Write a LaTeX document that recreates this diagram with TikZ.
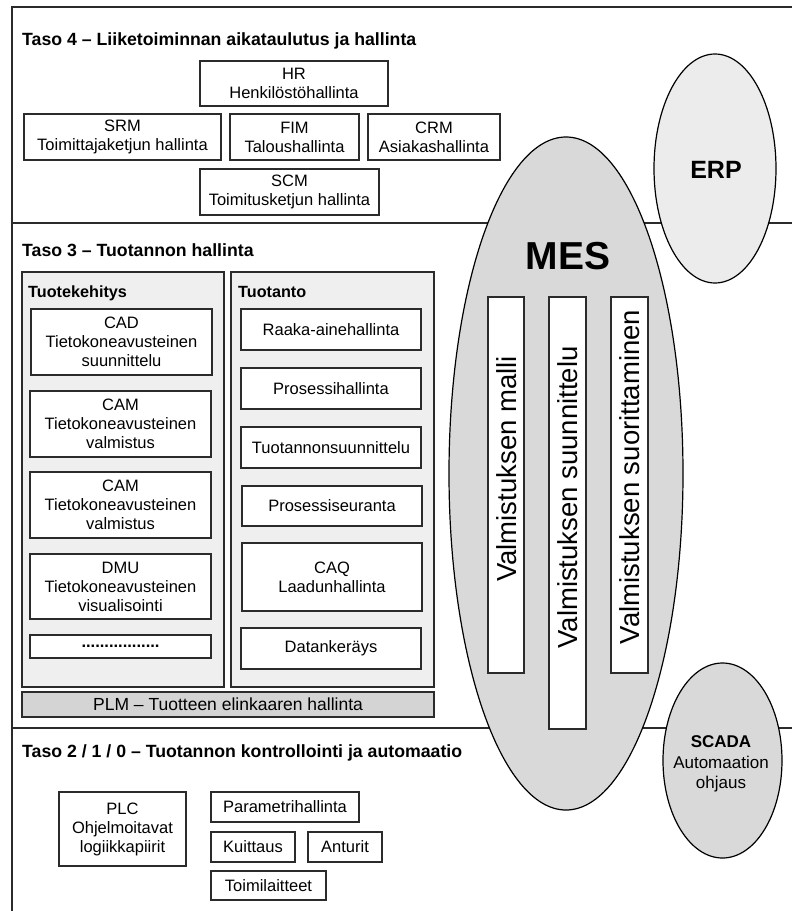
\documentclass[tikz,border=0pt]{standalone}
\usepackage{fontspec}
\setmainfont{Liberation Sans}
\usetikzlibrary{shapes.geometric}
\definecolor{edge}{HTML}{2B2B2B}
\definecolor{panelfill}{HTML}{EFEFEF}
\definecolor{mesfill}{HTML}{D9D9D9}
\definecolor{erpfill}{HTML}{ECECEC}
\definecolor{plmfill}{HTML}{D4D4D4}
\begin{document}
\begin{tikzpicture}[x=1pt,y=-1pt,
  frameline/.style={draw=edge, line width=1.3pt},
  box/.style={draw=edge, line width=1.2pt, fill=white, rectangle, inner sep=0pt,
    align=center, font=\fontsize{16.5}{19}\selectfont},
  panel/.style={draw=edge, line width=1.2pt, fill=panelfill, rectangle, inner sep=0pt},
  oval/.style={draw=black, line width=1.2pt, ellipse, inner sep=0pt},
  leveltitle/.style={anchor=base west, inner sep=0pt, font=\fontsize{17.7}{20}\selectfont\bfseries},
  paneltitle/.style={anchor=base west, inner sep=0pt, font=\fontsize{16.2}{19}\selectfont\bfseries},
  bar/.style={draw=edge, line width=1.2pt, fill=white, rectangle, inner sep=0pt},
  bartext/.style={rotate=90, inner sep=0pt, font=\fontsize{27.5}{30}\selectfont}
]
\useasboundingbox (0,0) rectangle (792,911);
\fill[white] (0,0) rectangle (792,911);

% outer frame and level separators
\coordinate (fbl) at (12,911);
\coordinate (ftl) at (12,7);
\coordinate (ftr) at (792,7);
\coordinate (s1l) at (12,223);
\coordinate (s1r) at (792,223);
\coordinate (s2l) at (12,728);
\coordinate (s2r) at (792,728);
\draw[frameline] (fbl) -- (ftl) -- (ftr);
\draw[frameline] (s1l) -- (s1r);
\draw[frameline] (s2l) -- (s2r);

% ---- Level 4 ----
\node[leveltitle] (t4) at (22,45) {Taso 4 – Liiketoiminnan aikataulutus ja hallinta};
\node[box, minimum width=188, minimum height=45] (hr)  at (294,83.5) {HR\\Henkilöstöhallinta};
\node[box, minimum width=197, minimum height=46] (srm) at (122.5,137) {SRM\\Toimittajaketjun hallinta};
\node[box, minimum width=129, minimum height=46] (fim) at (294.5,137) {FIM\\Taloushallinta};
\node[box, minimum width=132, minimum height=46] (crm) at (434,137) {CRM\\Asiakashallinta};
\node[box, minimum width=179, minimum height=46] (scm) at (289.5,192) {SCM\\Toimitusketjun hallinta};

% ---- Level 3 ----
\node[leveltitle] (t3) at (22,256) {Taso 3 – Tuotannon hallinta};
\node[panel, minimum width=202, minimum height=415] (pdev) at (123,479.5) {};
\node[panel, minimum width=203, minimum height=415] (pprod) at (332.5,479.5) {};
\node[paneltitle] (ldev) at (28,297) {Tuotekehitys};
\node[paneltitle] (lprod) at (238,297) {Tuotanto};

\node[box, minimum width=181, minimum height=66] (cad)  at (121.5,342) {CAD\\Tietokoneavusteinen\\suunnittelu};
\node[box, minimum width=181, minimum height=66] (cam1) at (120.5,424) {CAM\\Tietokoneavusteinen\\valmistus};
\node[box, minimum width=181, minimum height=66] (cam2) at (120.5,505) {CAM\\Tietokoneavusteinen\\valmistus};
\node[box, minimum width=181, minimum height=65] (dmu)  at (120.5,586.5) {DMU\\Tietokoneavusteinen\\visualisointi};
\node[box, minimum width=181, minimum height=23] (dots) at (120.5,646.5) {\bfseries.................};

\node[box, minimum width=180, minimum height=41] (raaka) at (331,329.5) {Raaka-ainehallinta};
\node[box, minimum width=180, minimum height=41] (proh)  at (331,388.5) {Prosessihallinta};
\node[box, minimum width=180, minimum height=41] (tsuu)  at (331,447.5) {Tuotannonsuunnittelu};
\node[box, minimum width=180, minimum height=40] (pseu)  at (332,506) {Prosessiseuranta};
\node[box, minimum width=180, minimum height=68] (caq)   at (332,577) {CAQ\\Laadunhallinta};
\node[box, minimum width=180, minimum height=41] (datk)  at (331,648.5) {Datankeräys};

\node[box, fill=plmfill, minimum width=412, minimum height=25,
      font=\fontsize{17.5}{20}\selectfont] (plm) at (228,704.5) {PLM – Tuotteen elinkaaren hallinta};

% ---- Level 2 / 1 / 0 ----
\node[leveltitle] (t2) at (22,757) {Taso 2 / 1 / 0 – Tuotannon kontrollointi ja automaatio};
\node[box, minimum width=127, minimum height=74] (plc)   at (122.5,829) {PLC\\Ohjelmoitavat\\logiikkapiirit};
\node[box, minimum width=148, minimum height=30] (param) at (285,807) {Parametrihallinta};
\node[box, minimum width=84,  minimum height=30] (kuit)  at (253,847) {Kuittaus};
\node[box, minimum width=74,  minimum height=30] (antu)  at (345,847) {Anturit};
\node[box, minimum width=115, minimum height=29] (toim)  at (268.5,885.5) {Toimilaitteet};

% ---- ERP, MES, SCADA ----
\node[oval, fill=erpfill, minimum width=122, minimum height=229] (erp) at (715,168.5) {};
\node[inner sep=0pt, font=\fontsize{25}{28}\selectfont\bfseries] (erpt) at (716,170) {ERP};

\node[oval, fill=mesfill, minimum width=234, minimum height=673] (mes) at (566,473.5) {};
\node[inner sep=0pt, anchor=base, font=\fontsize{39}{42}\selectfont\bfseries] (mest) at (568,269) {MES};

\node[bar, minimum width=36, minimum height=376] (bar1) at (506,485) {};
\node[bar, minimum width=37, minimum height=432] (bar2) at (567.5,513) {};
\node[bar, minimum width=37, minimum height=376] (bar3) at (629.5,485) {};
\node[bartext] (bt1) at (507,469) {Valmistuksen malli};
\node[bartext] (bt2) at (568,497.5) {Valmistuksen suunnittelu};
\node[bartext] (bt3) at (630,477) {Valmistuksen suorittaminen};

\node[oval, fill=mesfill, minimum width=119, minimum height=195] (scada) at (722.5,760.5) {};
\node[inner sep=0pt, align=center, font=\fontsize{17}{20.5}\selectfont] (scadat) at (721,764)
  {\textbf{SCADA}\\Automaation\\ohjaus};
\end{tikzpicture}
\end{document}
